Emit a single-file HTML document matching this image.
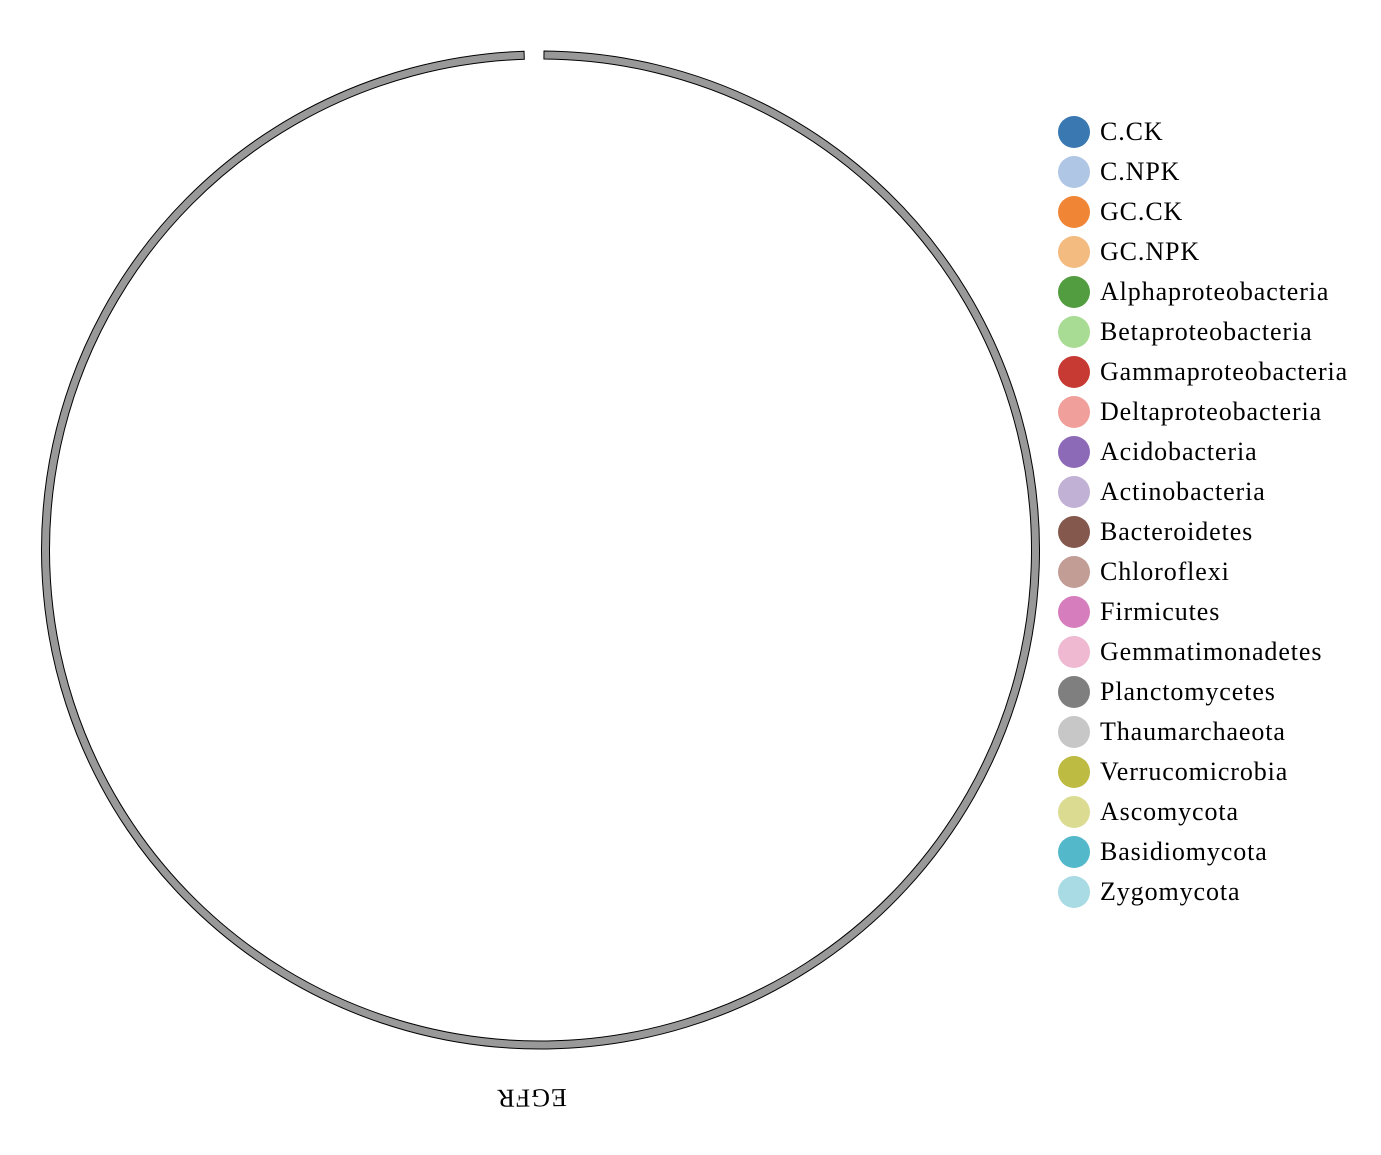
<!DOCTYPE html>
<html><head><meta charset="utf-8"><style>
body{margin:0;background:#fff;}
svg{display:block;font-family:"Liberation Serif",serif;}
</style></head><body>
<svg width="1381" height="1155">
<g id="ring"></g>
<g id="legend"></g>
</svg>
<script>
const groups=["EGFR"];
const groupStart=[0.007];
const groupEnd=[2*Math.PI-0.033];
const legendLabels=["C.CK","C.NPK","GC.CK","GC.NPK","Alphaproteobacteria","Betaproteobacteria","Gammaproteobacteria","Deltaproteobacteria","Acidobacteria","Actinobacteria","Bacteroidetes","Chloroflexi","Firmicutes","Gemmatimonadetes","Planctomycetes","Thaumarchaeota","Verrucomicrobia","Ascomycota","Basidiomycota","Zygomycota"];
const legendColors=["#3a78b1","#b0c6e5","#f08635","#f4bb81","#519d3f","#a8dc94","#c73a33","#f09f9a","#8d6ab8","#c1b1d4","#84584c","#c19d95","#d57dbd","#eeb9d1","#7f7f7f","#c7c7c7","#bdbb41","#dbdb92","#54b8cb","#a9dbe4"];
const NS="http://www.w3.org/2000/svg";
const cx=540.5,cy=550,ro=499,ri=491;
function pt(a,r){return [cx+r*Math.sin(a),cy-r*Math.cos(a)];}
const ring=document.getElementById('ring');
groups.forEach((g,i)=>{
  const a0=groupStart[i],a1=groupEnd[i],large=(a1-a0)>Math.PI?1:0;
  const p0=pt(a0,ro),p1=pt(a1,ro),p2=pt(a1,ri),p3=pt(a0,ri);
  const p=document.createElementNS(NS,'path');
  p.setAttribute('d',`M${p0}A${ro},${ro} 0 ${large} 1 ${p1}L${p2}A${ri},${ri} 0 ${large} 0 ${p3}Z`);
  p.setAttribute('fill','#999');p.setAttribute('stroke','#000');p.setAttribute('stroke-width','1');
  
  
  ring.appendChild(p);
  const mid=(a0+a1)/2,lp=pt(mid,ro+49);
  const t=document.createElementNS(NS,'text');
  t.setAttribute('x',0);t.setAttribute('y',0);t.setAttribute('text-anchor','middle');t.setAttribute('dominant-baseline','central');
  t.setAttribute('font-size','26');t.setAttribute('letter-spacing','1');
  t.setAttribute('transform',`translate(${lp[0]-16},${lp[1]}) rotate(${mid*180/Math.PI})`);
  t.textContent=g;
  
  
  ring.appendChild(t);
});
const lg=document.getElementById('legend');
legendLabels.forEach((l,i)=>{
  const y=132+i*40;
  const c=document.createElementNS(NS,'circle');
  c.setAttribute('cx',1074);c.setAttribute('cy',y);c.setAttribute('r',16);c.setAttribute('fill',legendColors[i]);
  
  
  lg.appendChild(c);
  const t=document.createElementNS(NS,'text');
  t.setAttribute('x',1100);t.setAttribute('y',y+8);t.setAttribute('font-size','26');t.setAttribute('letter-spacing','0.9');
  t.textContent=l;
  
  
  lg.appendChild(t);
});
</script>
</body></html>
